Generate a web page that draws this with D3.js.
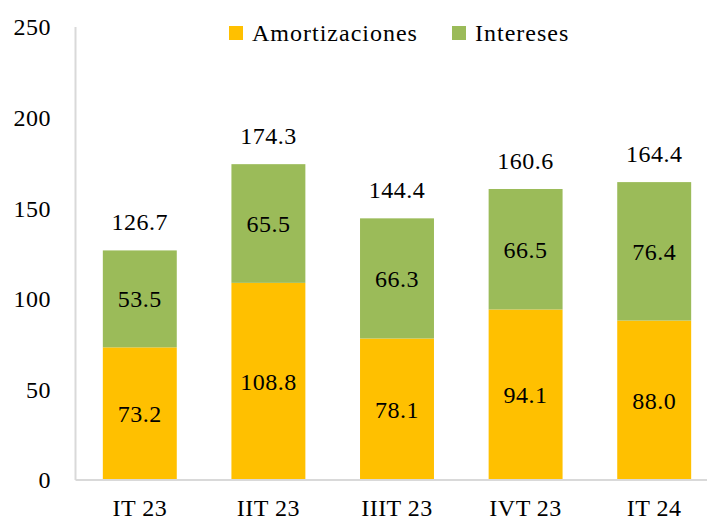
<!DOCTYPE html>
<html>
<head>
<meta charset="utf-8">
<script src="https://cdn.jsdelivr.net/npm/d3@7"></script>
<style>
  body { margin: 0; background: #fff; }
</style>
</head>
<body>
<div id="chart"></div>
<script>
const categories = ["IT 23", "IIT 23", "IIIT 23", "IVT 23", "IT 24"];
const amortizaciones = [73.2, 108.8, 78.1, 94.1, 88.0];
const intereses = [53.5, 65.5, 66.3, 66.5, 76.4];
const totals = [126.7, 174.3, 144.4, 160.6, 164.4];
const yTicks = [0, 50, 100, 150, 200, 250];
const seriesNames = ["Amortizaciones", "Intereses"];
const colors = ["#FFC000", "#9BBB59"];

const w = 707, h = 523;
const plotLeft = 75.5, plotRight = 718.5, plotTop = 27, plotBottom = 480;
const font = "Liberation Serif";

const svg = d3.select("#chart").append("svg").attr("width", w).attr("height", h)
  .style("display", "block");

const x = d3.scaleBand().domain(categories).range([plotLeft, plotRight]).paddingInner(0.425).paddingOuter(0.2125);
const y = d3.scaleLinear().domain([0, 250]).range([plotBottom, plotTop]);

const addText = (sel) => sel.attr("font-family", font).attr("font-size", 24)
  .attr("fill", "#000").attr("letter-spacing", 0.5);

// left axis line
svg.append("line").attr("x1", plotLeft).attr("x2", plotLeft).attr("y1", plotTop).attr("y2", plotBottom)
  .attr("stroke", "#d9d9d9").attr("stroke-width", 2);

// y tick labels
svg.selectAll("text.ytick").data(yTicks).enter().append("text")
  .attr("class", "ytick")
  .attr("x", 51).attr("y", d => y(d)).attr("dy", "0.35em")
  .attr("text-anchor", "end")
  .call(addText)
  .text(d => d);

const data = categories.map((c, i) => ({ cat: c, a: amortizaciones[i], b: intereses[i], t: totals[i] }));

svg.selectAll("rect.amort").data(data).enter().append("rect")
  .attr("x", d => x(d.cat)).attr("width", x.bandwidth())
  .attr("y", d => y(d.a)).attr("height", d => y(0) - y(d.a))
  .attr("fill", colors[0]);

svg.selectAll("rect.int").data(data).enter().append("rect")
  .attr("x", d => x(d.cat)).attr("width", x.bandwidth())
  .attr("y", d => y(d.a + d.b)).attr("height", d => y(d.a) - y(d.a + d.b))
  .attr("fill", colors[1]);

// bottom axis line
svg.append("line").attr("x1", plotLeft).attr("x2", plotRight).attr("y1", plotBottom).attr("y2", plotBottom)
  .attr("stroke", "#d9d9d9").attr("stroke-width", 2);

const cx = d => x(d.cat) + x.bandwidth() / 2;

svg.selectAll("text.la").data(data).enter().append("text")
  .attr("x", cx).attr("y", d => y(d.a / 2)).attr("dy", "0.35em")
  .attr("text-anchor", "middle").call(addText).text(d => d.a.toFixed(1));

svg.selectAll("text.lb").data(data).enter().append("text")
  .attr("x", cx).attr("y", d => y(d.a + d.b / 2)).attr("dy", "0.35em")
  .attr("text-anchor", "middle").call(addText).text(d => d.b.toFixed(1));

svg.selectAll("text.lt").data(data).enter().append("text")
  .attr("x", cx).attr("y", d => y(d.a + d.b) - 20)
  .attr("text-anchor", "middle").call(addText).text(d => d.t.toFixed(1));

// x labels
svg.selectAll("text.xl").data(categories).enter().append("text")
  .attr("x", d => x(d) + x.bandwidth() / 2).attr("y", 516)
  .attr("text-anchor", "middle").call(addText).text(d => d);

// legend
const legX = [229, 452];
const leg = svg.selectAll("g.leg").data(seriesNames).enter().append("g")
  .attr("transform", (d, i) => `translate(${legX[i]},26)`);
leg.append("rect").attr("width", 14).attr("height", 14).attr("fill", (d, i) => colors[i]);
leg.append("text").attr("x", 23).attr("y", 7).attr("dy", "0.35em")
  .call(addText).attr("letter-spacing", 1).text(d => d);
</script>
</body>
</html>
